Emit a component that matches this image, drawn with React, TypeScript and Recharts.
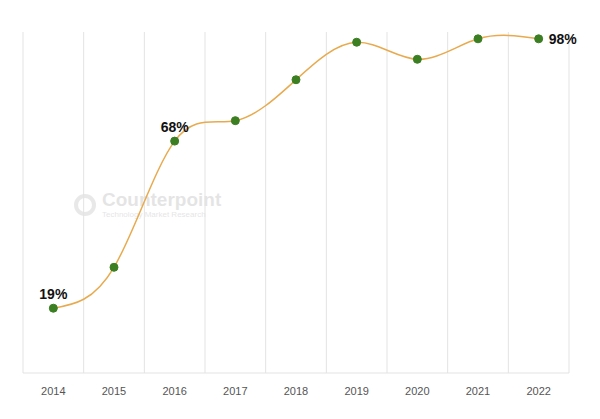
import React from 'react';
import {
  LineChart,
  Line,
  XAxis,
  YAxis,
  CartesianGrid,
  LabelList,
} from 'recharts';

const years = ['2014', '2015', '2016', '2017', '2018', '2019', '2020', '2021', '2022'];
const shareValues = [19, 31, 68, 74, 86, 97, 92, 98, 98];
const shareLabels = ['19%', '', '68%', '', '', '', '', '', '98%'];

const yearTicks = years.map((_, i) => i);
const gridTicks = [...years.map((_, i) => i - 0.5), years.length - 0.5];

const data = years.map((year, i) => ({
  idx: i,
  year,
  value: shareValues[i],
  label: shareLabels[i],
}));

const renderLabel = (props: any) => {
  const { x, y, value, index } = props;
  if (!value) return null;
  const last = index === years.length - 1;
  return (
    <text
      x={last ? x + 10 : x}
      y={last ? y + 5 : y - 9}
      textAnchor={last ? 'start' : 'middle'}
      fontFamily="Liberation Sans, Arial, sans-serif"
      fontWeight="bold"
      fontSize={14}
      fill="#111"
    >
      {value}
    </text>
  );
};

const Watermark = () => (
  <div
    style={{
      position: 'absolute',
      left: 74,
      top: 190,
      display: 'flex',
      alignItems: 'center',
      gap: 6,
      opacity: 0.22,
      fontFamily: 'Liberation Sans, Arial, sans-serif',
      pointerEvents: 'none',
    }}
  >
    <div
      style={{
        width: 22,
        height: 22,
        borderRadius: '50%',
        border: '4px solid #9a9a9a',
        boxSizing: 'border-box',
      }}
    />
    <div>
      <div style={{ fontSize: 19, fontWeight: 'bold', color: '#8a8a8a', lineHeight: '20px' }}>
        Counterpoint
      </div>
      <div style={{ fontSize: 8, color: '#8a8a8a', lineHeight: '9px' }}>
        Technology Market Research
      </div>
    </div>
  </div>
);

export default function App() {
  return (
    <div style={{ position: 'absolute', left: 0, top: 0, width: 600, height: 419, background: '#fff' }}>
      <Watermark />
      <LineChart
        width={600}
        height={419}
        data={data}
        margin={{ top: 32, right: 31, left: 23, bottom: 16 }}
      >
        <CartesianGrid
          xAxisId="grid"
          horizontal={false}
          stroke="#e3e3e3"
          strokeWidth={1}
        />
        <XAxis
          xAxisId="grid"
          dataKey="idx"
          type="number"
          domain={[-0.5, years.length - 0.5]}
          ticks={gridTicks}
          hide
        />
        <XAxis
          dataKey="idx"
          type="number"
          domain={[-0.5, years.length - 0.5]}
          ticks={yearTicks}
          tickFormatter={(v) => years[v]}
          height={30}
          axisLine={{ stroke: '#e3e3e3' }}
          tickLine={false}
          tick={{ fontSize: 11, fill: '#555', fontFamily: 'Liberation Sans, Arial, sans-serif' }}
          tickMargin={8}
        />
        <YAxis domain={[0, 100]} hide />
        <Line
          type="natural"
          dataKey="value"
          stroke="#e8aa4e"
          strokeWidth={1.5}
          dot={{ r: 4, fill: '#3b7f22', stroke: '#3b7f22', strokeWidth: 1 }}
          isAnimationActive={false}
        >
          <LabelList dataKey="label" content={renderLabel} />
        </Line>
      </LineChart>
    </div>
  );
}
